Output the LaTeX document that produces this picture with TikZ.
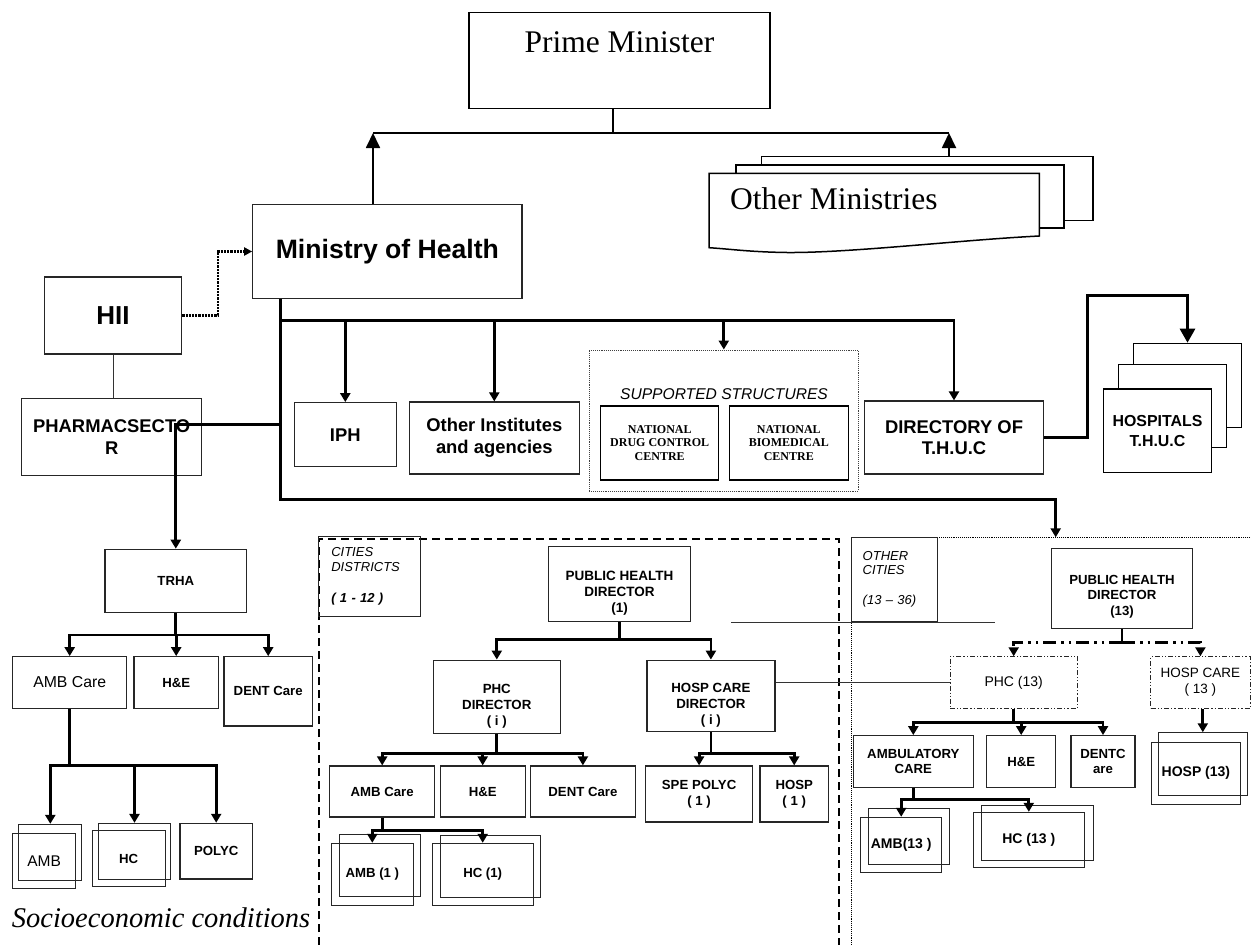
\documentclass[tikz,border=0pt]{standalone}
\usepackage{fontspec}
\setmainfont{Liberation Serif}
\setsansfont{Liberation Sans}
\usepackage{tikz}
\usetikzlibrary{arrows.meta,calc,positioning}
\newcommand{\fsz}[2]{\fontsize{#1}{#2}\selectfont}

\begin{document}
\begin{tikzpicture}[x=1pt,y=-1pt,
    wh/.style 2 args={minimum width=#1pt, minimum height=#2pt},
    box/.style={draw=black!85, line width=1.2pt, inner sep=0pt, align=center, font=\sffamily\bfseries\fsz{13.2}{15.8}},
    boxtxt/.style={inner sep=0pt, align=center, font=\sffamily\bfseries\fsz{13.3}{16}},
    bigtxt/.style={font=\sffamily\bfseries\fsz{18.4}{21.5}},
    natbox/.style={draw=black, line width=1.1pt, inner sep=0pt, align=center, font=\rmfamily\bfseries\fsz{12}{13.7}},
    page/.style={draw=black, fill=white, line width=1.5pt, inner sep=0pt},
    areabox/.style={draw=black!85, line width=1pt, inner ysep=0pt, align=left, font=\sffamily\itshape\fsz{13}{15.2}},
    ddbox/.style={draw=black!85, line width=0.9pt, dash pattern=on 5pt off 2pt on 1.2pt off 2pt on 1.2pt off 2pt, inner sep=0pt, align=center, font=\sffamily\fsz{14}{16}},
    wire/.style={line width=2.8pt},
    arr/.style={wire, -{Triangle[length=9pt,width=10pt]}},
    bigarr/.style={line width=1.8pt, -{Triangle[length=15pt,width=14pt]}},
    topline/.style={line width=1.8pt},
    thinline/.style={line width=1pt, black!80},
    dotarr/.style={line width=2.2pt, densely dotted, -{Triangle[length=8pt,width=8pt]}},
    ddarr/.style={wire, dash pattern=on 13pt off 5pt on 2.5pt off 5pt on 2.5pt off 5pt, -{Triangle[length=9pt,width=10pt]}}]

\useasboundingbox (0,0) rectangle (1251,945);

% Prime Minister and ministries
\node[draw, line width=1.5pt, inner sep=0pt, wh={301}{96}, font=\rmfamily\fsz{31.5}{36}, text height=40pt, text depth=56pt] (pm) at (619.5,60.7) {Prime Minister};
\node[box, wh={269.3}{93.6}, font=\sffamily\bfseries\fsz{26.6}{30}] (moh) at (387.4,251.5) {Ministry of Health};

\node[page, wh={331.3}{64}] (om3) at (927.35,188.7) {};
\node[page, wh={328}{63}] (om2) at (900,196.5) {};
\draw[page] (709,247.7) -- (709,173.3) -- (1039.3,173.3) -- (1039.3,236)
    .. controls (960,240) and (850,253) .. (787,252.5)
    .. controls (750,252) and (730,249) .. (709,247.7) -- cycle;
\node[anchor=base west, inner sep=0pt, font=\rmfamily\fsz{31.5}{36}] (omtext) at (730,209.3) {Other Ministries};

\coordinate (pmbar) at (612.7,133);
\coordinate (mohup) at (373,133);
\coordinate (omup) at (949,133);
\draw[topline] (pm.south -| pmbar) -- (pmbar);
\draw[topline] (mohup) -- (omup);
\draw[bigarr] (moh.north -| mohup) -- (mohup);
\draw[bigarr] (om3.north -| omup) -- (omup);

% HII and pharmacy sector
\node[box, wh={137.4}{77}, font=\sffamily\bfseries\fsz{26}{30}] (hii) at (113,315.5) {HII};
\node[box, wh={180}{77}, font=\sffamily\bfseries\fsz{18.4}{22}] (pharma) at (111.7,436.8) {PHARMACSECTO\\R};
\draw[thinline] (hii.south) -- (hii.south |- pharma.north);
\draw[dotarr] (hii.east) -- ++(35.3,0) |- (moh.west);

% Institutes under the ministry
\node[box, bigtxt, wh={102}{64}] (iph) at (345.3,434.7) {IPH};
\node[box, bigtxt, wh={170}{72}] (inst) at (494.3,438) {Other Institutes\\and agencies};
\node[draw=black!75, line width=0.9pt, densely dotted, inner sep=0pt, wh={269}{141}] (supp) at (723.8,420.5) {};
\node[anchor=base, inner sep=0pt, font=\sffamily\itshape\fsz{15.6}{18}] (supptitle) at (724,399) {SUPPORTED STRUCTURES};
\node[natbox, wh={118}{74}] (ndcc) at (659.7,443) {NATIONAL\\DRUG CONTROL\\CENTRE};
\node[natbox, wh={119}{74}] (nbc) at (788.8,443) {NATIONAL\\BIOMEDICAL\\CENTRE};
\node[box, bigtxt, wh={179.4}{73}] (dir) at (954,437.5) {DIRECTORY OF\\T.H.U.C};

% Hospitals
\node[page, line width=1.2pt, wh={108.4}{84}] (thuc3) at (1187.5,385.3) {};
\node[page, line width=1.2pt, wh={108.4}{83.4}] (thuc2) at (1172.5,406) {};
\node[page, line width=1.2pt, wh={108.4}{83.7}, align=center, font=\sffamily\bfseries\fsz{15.9}{20}] (thuc1) at (1157.5,430.9) {HOSPITALS\\T.H.U.C};

% TRHA
\node[box, wh={141.7}{63.4}] (trha) at (175.8,581) {TRHA};
\node[box, wh={114}{51.6}, font=\sffamily\fsz{15.8}{19}] (ambc) at (69.7,682.5) {AMB Care};
\node[box, wh={84.3}{51.6}] (he) at (176.2,682.5) {H\&E};
\node[box, wh={88.3}{69.3}] (dent) at (268.2,691.4) {DENT Care};

% Trunk from the ministry
\coordinate (tbr) at (280.7,320.7);
\coordinate (tph) at (280.7,424.3);
\coordinate (tbot) at (280.7,499.5);
\coordinate (ocity) at (1055.7,537.3);
\coordinate (hbend) at (1087.7,295.7);
\draw[arr] (moh.south -| tbot) -- (tbot) -| (ocity);
\draw[arr] (tbr) -| (dir.north);
\draw[arr] (tbr -| iph.north) -- (iph.north);
\draw[arr] (tbr -| inst.north) -- (inst.north);
\draw[arr] (tbr -| supp.north) -- (supp.north);
\draw[wire, -{Triangle[length=14pt,width=15pt]}] (dir.east) -| (hbend) -| (thuc3.north);
\draw[arr] (tph) -| (trha.north);

\coordinate (trhaj) at (175.8,635);
\draw[wire] (trha.south) -- (trhaj);
\draw[arr] (trhaj) -| (ambc.north);
\draw[arr] (trhaj) -- (trhaj -| he.north) -- (he.north);
\draw[arr] (trhaj) -| (dent.north);

\node[box, wh={62.7}{55.7}, line width=1pt] (ambb) at (50.3,852.2) {};
\node[box, wh={63}{55}, line width=1pt, font=\sffamily\fsz{15.5}{18}] (amb) at (44.2,860.8) {AMB};
\node[box, wh={72.4}{55.7}, line width=1pt] (hcb) at (134.5,851.2) {};
\node[box, wh={72.7}{56}, line width=1pt] (hc) at (128.7,858.7) {HC};
\node[box, wh={72.3}{55.7}] (polyc) at (216.2,851.2) {POLYC};
\coordinate (ambj) at (69.7,765.7);
\draw[wire] (ambc.south) -- (ambj);
\draw[arr] (ambj) -| (ambb.north);
\draw[arr] (ambj) -| (hcb.north);
\draw[arr] (ambj) -| (polyc.north);

\node[anchor=base west, inner sep=0pt, font=\rmfamily\itshape\fsz{28.5}{32}] (socio) at (11.7,927.3) {Socioeconomic conditions};

% Cities districts
\draw[line width=2pt, dash pattern=on 8pt off 5pt] (318.5,945) -- (318.5,538.5) -- (838.5,538.5) -- (838.5,945);
\node[areabox, wh={102.3}{80.6}, text width=76.9pt, inner xsep=12.7pt] (cities) at (369.75,576.5) {CITIES\\DISTRICTS\\[15.5pt]\textbf{( 1 - 12 )}};

\node[box, wh={142}{75}] (phd) at (619.5,584) {};
\node[boxtxt, font=\sffamily\bfseries\fsz{13.5}{16}] (phdtxt) at ([yshift=-9pt]phd.center) {PUBLIC HEALTH\\DIRECTOR\\(1)};
\node[box, wh={127}{73.7}] (phcdir) at (496.8,697) {};
\node[boxtxt] (phcdirtxt) at ([yshift=-9pt]phcdir.center) {PHC\\DIRECTOR\\( i )};
\node[box, wh={128}{71.2}] (hospdir) at (710.9,695.8) {};
\node[boxtxt] (hospdirtxt) at ([yshift=-9pt]hospdir.center) {HOSP CARE\\DIRECTOR\\( i )};
\coordinate (phdj) at (619.5,639.5);
\draw[wire] (phd.south) -- (phdj);
\draw[arr] (phdj) -| (phcdir.north);
\draw[arr] (phdj) -| (hospdir.north);

\node[box, wh={105}{51}] (ambc2) at (382.2,791.5) {AMB Care};
\node[box, wh={85}{51}] (he2) at (482.7,791.5) {H\&E};
\node[box, wh={105}{51}] (dent2) at (582.9,791.5) {DENT Care};
\node[box, wh={106.8}{56}] (spe) at (699.1,794) {SPE POLYC\\( 1 )};
\node[box, wh={68.3}{56}] (hospone) at (794.2,794) {HOSP\\( 1 )};
\coordinate (phcj) at (496.8,753.1);
\coordinate (hdj) at (710.9,753.1);
\draw[wire] (phcdir.south) -- (phcj);
\draw[arr] (phcj) -| (ambc2.north);
\draw[arr] (phcj) -| (he2.north);
\draw[arr] (phcj) -| (dent2.north);
\draw[wire] (hospdir.south) -- (hdj);
\draw[arr] (hdj) -| (spe.north);
\draw[arr] (hdj) -| (hospone.north);

\node[box, wh={81.6}{62}, line width=1pt] (amboneb) at (380.1,865) {};
\node[box, wh={82}{62}, line width=1pt] (ambone) at (372.3,874.3) {AMB (1 )};
\node[box, wh={100.5}{62}, line width=1pt] (honeb) at (490.5,866.8) {};
\node[box, wh={101}{62}, line width=1pt] (hcone) at (482.7,874.3) {HC (1)};
\coordinate (ambc2j) at (382.2,830.6);
\draw[wire] (ambc2.south) -- (ambc2j);
\draw[arr] (ambc2j) -| (ambone.north);
\draw[arr] (ambc2j) -| (hcone.north);

% Other cities
\draw[line width=0.9pt, densely dotted] (851,945) -- (851,537.3) -- (1251,537.3);
\node[areabox, wh={86.7}{84.4}, text width=63.3pt, inner xsep=11.7pt, font=\sffamily\itshape\fsz{13}{14.2}] (ocities) at (894.35,579.5) {OTHER\\CITIES\\[16pt](13 – 36)};
\draw[thinline] (731,622) -- (995,622);

\node[box, wh={140.6}{80}] (phdx) at (1122,588.3) {};
\node[boxtxt, font=\sffamily\bfseries\fsz{13.2}{15.5}] (phdxtxt) at ([yshift=-8pt]phdx.center) {PUBLIC HEALTH\\DIRECTOR\\(13)};
\node[ddbox, wh={127.3}{51.6}] (phcx) at (1013.7,682.5) {PHC (13)};
\node[ddbox, wh={99.3}{51.6}, font=\sffamily\fsz{13.5}{15.7}] (hcarex) at (1200.4,682.5) {HOSP CARE\\( 13 )};
\coordinate (phdxj) at (1122,642.3);
\draw[wire] (phdx.south) -- (phdxj);
\draw[ddarr] (phdxj) -| (phcx.north);
\draw[ddarr] (phdxj) -| (hcarex.north);
\draw[thinline] (hospdir.east |- phcx.west) -- (phcx.west);

\node[box, wh={120}{51.6}] (ambul) at (913.3,761.5) {AMBULATORY\\CARE};
\node[box, wh={69}{51.6}] (hex) at (1021.2,761.5) {H\&E};
\node[box, wh={64}{51.6}] (dentc) at (1103,761.5) {DENTC\\are};
\node[box, wh={89}{62.3}, line width=1pt] (hospxb) at (1202.8,763.9) {};
\node[box, wh={89.7}{62}, line width=1pt, font=\sffamily\bfseries\fsz{14}{16}] (hospx) at (1195.9,773.3) {HOSP (13)};
\coordinate (phcxj) at (1013.7,722.7);
\draw[wire] (phcx.south) -- (phcxj);
\draw[arr] (phcxj) -| (ambul.north);
\draw[arr] (phcxj) -| (hex.north);
\draw[arr] (phcxj) -| (dentc.north);
\draw[arr] (hcarex.south -| hospxb.north) -- (hospxb.north);

\node[box, wh={80.7}{56}, line width=1pt] (ambxb) at (908.7,836.3) {};
\node[box, wh={81}{55.4}, line width=1pt, font=\sffamily\bfseries\fsz{14}{16}] (ambx) at (901.2,845) {AMB(13 )};
\node[box, wh={111.6}{55.7}, line width=1pt] (hcxb) at (1037.5,832.9) {};
\node[box, wh={111}{55}, line width=1pt, font=\sffamily\bfseries\fsz{14}{16}] (hcx) at (1028.8,839.8) {HC (13 )};
\coordinate (ambulj) at (913.3,799.7);
\draw[wire] (ambul.south) -- (ambulj);
\draw[arr] (ambulj) -| (ambx.north);
\draw[arr] (ambulj) -| (hcx.north);
\end{tikzpicture}
\end{document}
